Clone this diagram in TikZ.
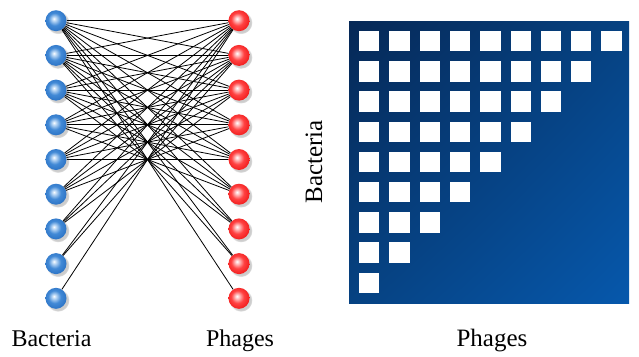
\documentclass[tikz,border=0pt]{standalone}
\usepackage{fontspec}
\setmainfont{Liberation Serif}
\usetikzlibrary{shadows,shadings}
\definecolor{matdark}{RGB}{6,40,86}
\definecolor{matmid}{RGB}{6,66,130}
\definecolor{matlight}{RGB}{6,88,172}
% glossy sphere shadings for the two kinds of vertices
\pgfdeclareradialshading{bactball}{\pgfpoint{-5bp}{5bp}}{%
  rgb(0bp)=(1,1,1); rgb(3bp)=(0.82,0.90,0.98); rgb(15bp)=(0.26,0.54,0.84);
  rgb(32bp)=(0.14,0.42,0.75); rgb(43bp)=(0.09,0.32,0.62); rgb(50bp)=(0.05,0.22,0.48)}
\pgfdeclareradialshading{phageball}{\pgfpoint{-5bp}{5bp}}{%
  rgb(0bp)=(1,1,1); rgb(3bp)=(1,0.86,0.86); rgb(15bp)=(1,0.26,0.26);
  rgb(32bp)=(0.93,0.06,0.06); rgb(43bp)=(0.78,0.02,0.02); rgb(50bp)=(0.55,0,0)}
\tikzset{
  ball/.style={circle, minimum size=21pt, inner sep=0pt,
    circular drop shadow={shadow xshift=1.8pt, shadow yshift=-1.8pt, opacity=0.4}},
  bact/.style={ball, shading=bactball},
  phage/.style={ball, shading=phageball},
  link/.style={black, line width=0.8pt},
  cell/.style={fill=white},
  lab/.style={font=\fontsize{24}{28}\selectfont, inner sep=0pt, anchor=base},
  biglab/.style={font=\fontsize{25}{30}\selectfont, inner sep=0pt, anchor=base},
}
\begin{document}
\begin{tikzpicture}[x=1pt,y=-1pt]
\useasboundingbox (0,0) rectangle (639,356);

% bipartite network: bacteria (left) and phages (right)
\foreach \i in {1,...,9} {
  \node[bact] (b\i) at (56, {20.7+(\i-1)*34.7}) {};
  \node[phage] (p\i) at (239, {20.7+(\i-1)*34.7}) {};
}
% nested interactions: bacterium i infected by phages 1..10-i
\foreach \i in {1,...,9} {
  \pgfmathtruncatemacro\lastp{10-\i}
  \foreach \j in {1,...,\lastp} {
    \draw[link] (b\i) -- (p\j);
  }
}

\node[lab] (bl) at (51.5,346) {Bacteria};
\node[lab] (pl) at (240,346) {Phages};

% interaction matrix
\shade[upper left=matdark, upper right=matmid, lower left=matmid, lower right=matlight]
  (349,21) rectangle (629,303);
\foreach \r in {1,...,9} {
  \pgfmathtruncatemacro\lastc{10-\r}
  \foreach \c in {1,...,\lastc} {
    \fill[cell] ({359+(\c-1)*30.3}, {31+(\r-1)*30.2}) rectangle ++(20.3,20.3);
  }
}

\node[biglab] (mx) at (492,346.5) {Phages};
\node[biglab, rotate=90] (my) at (322,162) {Bacteria};
\end{tikzpicture}
\end{document}
